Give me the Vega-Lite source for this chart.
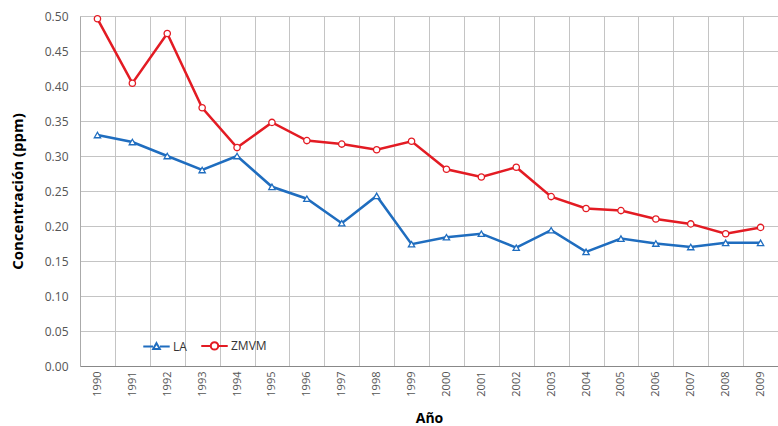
{
  "$schema": "https://vega.github.io/schema/vega-lite/v6.json",
  "width": 698,
  "height": 350,
  "autosize": "none",
  "padding": {"left": 80, "top": 16, "right": 0, "bottom": 60},
  "background": "white",
  "config": {
    "font": "Open Sans",
    "view": {"stroke": null}
  },
  "data": {
    "values": [
      {"year": "1990", "serie": "LA", "v": 0.330}, {"year": "1990", "serie": "ZMVM", "v": 0.496},
      {"year": "1991", "serie": "LA", "v": 0.320}, {"year": "1991", "serie": "ZMVM", "v": 0.404},
      {"year": "1992", "serie": "LA", "v": 0.300}, {"year": "1992", "serie": "ZMVM", "v": 0.475},
      {"year": "1993", "serie": "LA", "v": 0.280}, {"year": "1993", "serie": "ZMVM", "v": 0.369},
      {"year": "1994", "serie": "LA", "v": 0.300}, {"year": "1994", "serie": "ZMVM", "v": 0.312},
      {"year": "1995", "serie": "LA", "v": 0.256}, {"year": "1995", "serie": "ZMVM", "v": 0.348},
      {"year": "1996", "serie": "LA", "v": 0.239}, {"year": "1996", "serie": "ZMVM", "v": 0.322},
      {"year": "1997", "serie": "LA", "v": 0.204}, {"year": "1997", "serie": "ZMVM", "v": 0.317},
      {"year": "1998", "serie": "LA", "v": 0.243}, {"year": "1998", "serie": "ZMVM", "v": 0.309},
      {"year": "1999", "serie": "LA", "v": 0.174}, {"year": "1999", "serie": "ZMVM", "v": 0.321},
      {"year": "2000", "serie": "LA", "v": 0.184}, {"year": "2000", "serie": "ZMVM", "v": 0.281},
      {"year": "2001", "serie": "LA", "v": 0.189}, {"year": "2001", "serie": "ZMVM", "v": 0.270},
      {"year": "2002", "serie": "LA", "v": 0.169}, {"year": "2002", "serie": "ZMVM", "v": 0.284},
      {"year": "2003", "serie": "LA", "v": 0.194}, {"year": "2003", "serie": "ZMVM", "v": 0.242},
      {"year": "2004", "serie": "LA", "v": 0.163}, {"year": "2004", "serie": "ZMVM", "v": 0.225},
      {"year": "2005", "serie": "LA", "v": 0.182}, {"year": "2005", "serie": "ZMVM", "v": 0.222},
      {"year": "2006", "serie": "LA", "v": 0.175}, {"year": "2006", "serie": "ZMVM", "v": 0.210},
      {"year": "2007", "serie": "LA", "v": 0.170}, {"year": "2007", "serie": "ZMVM", "v": 0.203},
      {"year": "2008", "serie": "LA", "v": 0.176}, {"year": "2008", "serie": "ZMVM", "v": 0.189},
      {"year": "2009", "serie": "LA", "v": 0.176}, {"year": "2009", "serie": "ZMVM", "v": 0.198}
    ]
  },
  "encoding": {
    "x": {
      "field": "year", "type": "ordinal",
      "scale": {"type": "band", "paddingInner": 0, "paddingOuter": 0},
      "axis": {
        "title": "Año", "titleFont": "Open Sans", "titleFontWeight": "bold", "titleFontSize": 14, "titleColor": "#000",
        "titlePadding": 15,
        "labelAngle": -90, "labelColor": "#555", "labelFontSize": 11, "labelPadding": 5,
        "tickBand": "extent", "ticks": false,
        "grid": true, "gridColor": "#c4c4c4", "gridWidth": 1,
        "domainColor": "#888", "domainWidth": 1
      }
    },
    "y": {
      "field": "v", "type": "quantitative",
      "scale": {"domain": [0, 0.5], "nice": false},
      "axis": {
        "title": "Concentración (ppm)", "titleFont": "Open Sans", "titleFontWeight": "bold", "titleFontSize": 15, "titleColor": "#000",
        "titlePadding": 19,
        "values": [0, 0.05, 0.1, 0.15, 0.2, 0.25, 0.3, 0.35, 0.4, 0.45, 0.5],
        "format": ".2f", "labelColor": "#555", "labelFontSize": 12, "labelPadding": 12,
        "ticks": false, "grid": true, "gridColor": "#c4c4c4", "gridWidth": 1,
        "domainColor": "#aaa", "domainWidth": 1
      }
    },
    "color": {
      "field": "serie", "type": "nominal",
      "scale": {"domain": ["LA", "ZMVM"], "range": ["#1f6dbf", "#e31b23"]},
      "legend": {
        "title": null, "orient": "none", "direction": "horizontal",
        "legendX": 62, "legendY": 315,
        "labelFontSize": 12, "labelColor": "#333", "labelOffset": 2,
        "symbolSize": 700, "symbolStrokeWidth": 2, "columnPadding": 10,
        "encode": {
          "symbols": {
            "enter": {
              "shape": {"signal": "datum.value == 'LA' ? 'M -1 0 H -0.26 M 0.26 0 H 1 M 0 -0.26 L 0.25 0.18 L -0.25 0.18 Z' : 'M -1 0 H -0.28 M 0.28 0 H 1 M -0.28 0 A 0.28 0.28 0 1 0 0.28 0 A 0.28 0.28 0 1 0 -0.28 0'"},
              "fill": {"value": "white"},
              "strokeWidth": {"value": 2}
            },
            "update": {
              "shape": {"signal": "datum.value == 'LA' ? 'M -1 0 H -0.26 M 0.26 0 H 1 M 0 -0.26 L 0.25 0.18 L -0.25 0.18 Z' : 'M -1 0 H -0.28 M 0.28 0 H 1 M -0.28 0 A 0.28 0.28 0 1 0 0.28 0 A 0.28 0.28 0 1 0 -0.28 0'"},
              "fill": {"value": "white"},
              "strokeWidth": {"value": 2}
            }
          }
        }
      }
    }
  },
  "layer": [
    {"mark": {"type": "line", "strokeWidth": 2.5}},
    {
      "transform": [{"filter": "datum.serie == 'LA'"}],
      "mark": {"type": "point", "shape": "triangle-up", "filled": false, "fill": "white", "fillOpacity": 1, "strokeWidth": 1.3, "size": 40, "opacity": 1}
    },
    {
      "transform": [{"filter": "datum.serie == 'ZMVM'"}],
      "mark": {"type": "point", "shape": "circle", "filled": false, "fill": "white", "fillOpacity": 1, "strokeWidth": 1.3, "size": 40, "opacity": 1}
    }
  ]
}
